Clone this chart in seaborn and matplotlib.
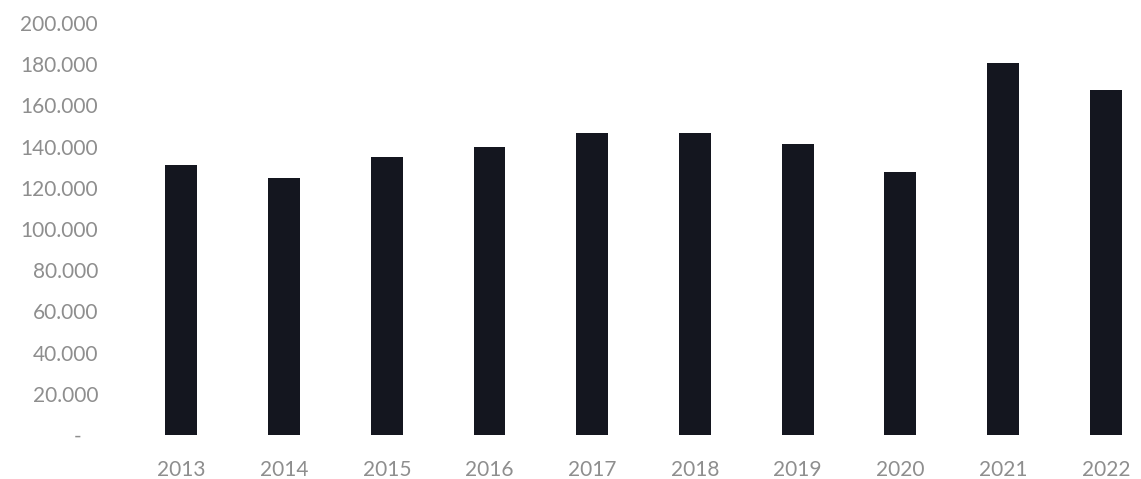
import matplotlib
matplotlib.use("Agg")
import matplotlib.pyplot as plt
import seaborn as sns
import pandas as pd
from matplotlib.ticker import FuncFormatter, MultipleLocator

years = ["2013", "2014", "2015", "2016", "2017", "2018", "2019", "2020", "2021", "2022"]
values = [131000, 125000, 135000, 140000, 146500, 146500, 141500, 127500, 180500, 167500]

df = pd.DataFrame({"year": years, "value": values})

sns.set_theme(style="white")
plt.rcParams["font.family"] = ["Lato", "DejaVu Sans"]

W, H = 1141, 479
fig = plt.figure(figsize=(W / 100, H / 100), dpi=100)
ax = fig.add_axes([130 / W, (H - 435) / H, (W - 130) / W, 412 / H])

sns.barplot(data=df, x="year", y="value", color="#14161f", saturation=1,
            width=0.31, ax=ax, linewidth=0)

ax.set_ylim(0, 200000)
ax.set_xlim(-0.5, (W - 181.5) / 102.7)
ax.yaxis.set_major_locator(MultipleLocator(20000))


def fmt(v, pos):
    if abs(v) < 1:
        return "-   "
    return f"{int(round(v)):,}".replace(",", ".")


ax.yaxis.set_major_formatter(FuncFormatter(fmt))
ax.set_xlabel("")
ax.set_ylabel("")
for s in ax.spines.values():
    s.set_visible(False)
ax.tick_params(axis="y", length=0, pad=23, labelsize=15, labelcolor="#8e8e8e")
ax.tick_params(axis="x", length=0, pad=18, labelsize=15, labelcolor="#8e8e8e")

fig.savefig("out.png", dpi=100)
